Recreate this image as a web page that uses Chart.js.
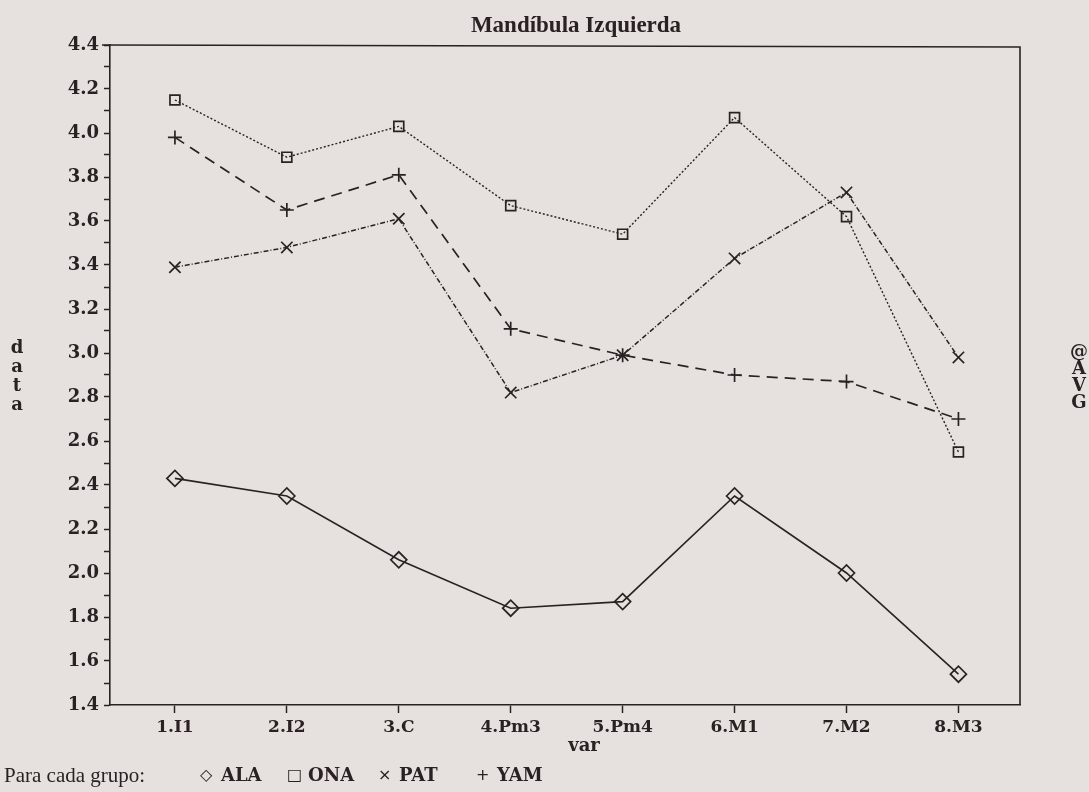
<!DOCTYPE html>
<html>
<head>
<meta charset="utf-8">
<script src="https://cdn.jsdelivr.net/npm/chart.js@4/dist/chart.umd.min.js"></script>
<style>
  html, body { margin: 0; padding: 0; background: #e6e1de; }
  #wrap { width: 1089px; height: 792px; }
</style>
</head>
<body>
<div id="wrap"><canvas id="myChart" width="1089" height="792"></canvas></div>
<script>
// categories (var) and the group averages
var categories = ['1.I1', '2.I2', '3.C', '4.Pm3', '5.Pm4', '6.M1', '7.M2', '8.M3'];
var alaValues = [2.43, 2.35, 2.06, 1.84, 1.87, 2.35, 2.00, 1.54];
var onaValues = [4.15, 3.89, 4.03, 3.67, 3.54, 4.07, 3.62, 2.55];
var patValues = [3.39, 3.48, 3.61, 2.82, 2.99, 3.43, 3.73, 2.98];
var yamValues = [3.98, 3.65, 3.81, 3.11, 2.99, 2.90, 2.87, 2.70];
var groupNames = ['ALA', 'ONA', 'PAT', 'YAM'];
var groupSymbols = ['\u25C7', '\u25A1', '\u00D7', '+'];

var ink = '#2a2222';
var paper = '#e6e1de';

function toPoints(values) {
    return values.map((v, i) => ({ x: i, y: v }));
}

// paper background + frame on top and right side
var pagePlugin = {
    id: 'page',
    beforeDraw: function (chart) {
        var ctx = chart.ctx;
        ctx.save();
        ctx.fillStyle = paper;
        ctx.fillRect(0, 0, chart.width, chart.height);
        ctx.restore();
    },
    afterDraw: function (chart) {
        var ctx = chart.ctx;
        var a = chart.chartArea;
        ctx.save();
        ctx.strokeStyle = ink;
        ctx.lineWidth = 1.6;
        ctx.beginPath();
        ctx.moveTo(a.left - 8, a.top);
        ctx.lineTo(a.right, a.top + 2);
        ctx.lineTo(a.right, a.bottom);
        ctx.stroke();

        ctx.fillStyle = ink;
        ctx.textAlign = 'center';
        ctx.textBaseline = 'middle';

        // title
        ctx.font = 'bold 23px "Liberation Serif"';
        ctx.fillText('Mandíbula Izquierda', 576, 26);

        // stacked axis names
        ctx.font = 'bold 18px "DejaVu Serif"';
        'data'.split('').forEach((ch, i) => ctx.fillText(ch, 17, 348 + i * 19));
        '@AVG'.split('').forEach((ch, i) => ctx.fillText(ch, 1079, 352 + i * 17));
        ctx.fillText('var', 584, 746);

        // legend line
        ctx.textAlign = 'left';
        ctx.font = '21px "Liberation Serif"';
        ctx.fillText('Para cada grupo:', 4, 776);
        var xs = [200, 287, 378, 476];
        groupNames.forEach((name, i) => {
            ctx.font = '16px "DejaVu Sans"';
            ctx.fillText(groupSymbols[i], xs[i], 776);
            ctx.font = 'bold 18px "DejaVu Serif"';
            ctx.fillText(name, xs[i] + 21, 776);
        });
        ctx.restore();
    }
};

var common = {
    borderColor: ink,
    pointBorderColor: ink,
    pointBackgroundColor: 'rgba(0,0,0,0)',
    pointBorderWidth: 1.7,
    fill: false,
    tension: 0
};

var ctx = document.getElementById('myChart').getContext('2d');
var chart = new Chart(ctx, {
    type: 'line',
    data: {
        datasets: [
            Object.assign({}, common, {
                label: 'ALA', data: toPoints(alaValues),
                borderWidth: 1.6, pointStyle: 'rectRot', pointRadius: 8
            }),
            Object.assign({}, common, {
                label: 'ONA', data: toPoints(onaValues),
                borderWidth: 1.4, borderDash: [2, 2], pointStyle: 'rect', pointRadius: 7
            }),
            Object.assign({}, common, {
                label: 'PAT', data: toPoints(patValues),
                borderWidth: 1.5, borderDash: [5, 2, 1, 2], pointStyle: 'crossRot', pointRadius: 8
            }),
            Object.assign({}, common, {
                label: 'YAM', data: toPoints(yamValues),
                borderWidth: 1.7, borderDash: [11, 7], pointStyle: 'cross', pointRadius: 7
            })
        ]
    },
    options: {
        responsive: false,
        animation: false,
        layout: { padding: { top: 45, right: 69, bottom: 0, left: 0 } },
        plugins: {
            legend: { display: false },
            title: { display: false },
            tooltip: { enabled: false }
        },
        scales: {
            x: {
                type: 'linear',
                min: -0.58,
                max: 7.55,
                afterFit: function (scale) { scale.height = 87; },
                afterBuildTicks: function (scale) {
                    scale.ticks = categories.map((c, i) => ({ value: i }));
                },
                grid: { drawOnChartArea: false, tickLength: 8, color: ink, tickWidth: 1.5 },
                border: { display: true, color: ink, width: 1.6 },
                ticks: {
                    autoSkip: false,
                    maxRotation: 0,
                    padding: 4,
                    color: ink,
                    font: { family: 'DejaVu Serif', size: 17, weight: 'bold' },
                    callback: function (value) { return categories[value]; }
                }
            },
            y: {
                min: 1.4,
                max: 4.4,
                afterFit: function (scale) { scale.width = 110; },
                grid: { drawOnChartArea: false, tickLength: 6, color: ink, tickWidth: 1.5 },
                border: { display: true, color: ink, width: 1.6 },
                ticks: {
                    stepSize: 0.1,
                    autoSkip: false,
                    padding: 5,
                    color: ink,
                    font: { family: 'DejaVu Serif', size: 18, weight: 'bold' },
                    callback: function (value) {
                        var t = Math.round(value * 10);
                        return t % 2 === 0 ? (t / 10).toFixed(1) : '';
                    }
                }
            }
        }
    },
    plugins: [pagePlugin]
});
</script>
</body>
</html>
